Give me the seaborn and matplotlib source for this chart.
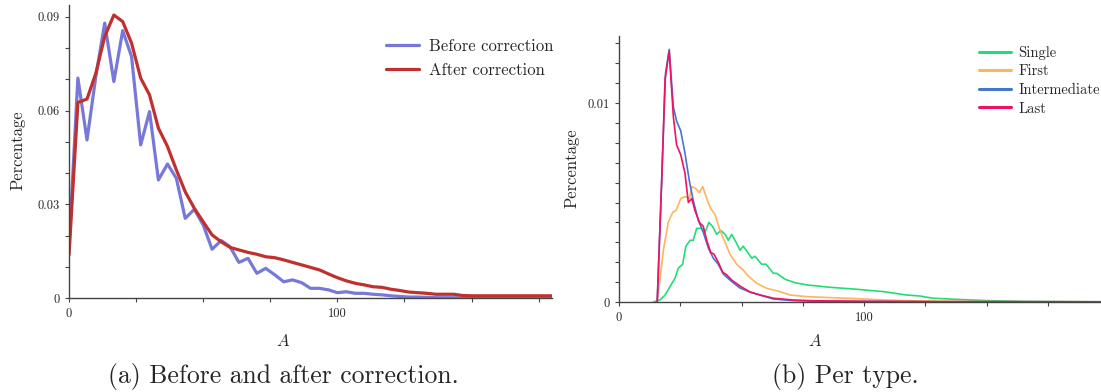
import numpy as np
import pandas as pd
import seaborn as sns
import matplotlib.pyplot as plt
from matplotlib.ticker import MultipleLocator

# ---- data ----
# (a) before / after correction
A_bins = [0, 3.3, 6.7, 10, 13.3, 16.7, 20, 23.3, 26.7, 30, 33.3, 36.7, 40, 43.3,
          46.7, 50, 53.3, 56.7, 60, 63.3, 66.7, 70, 73.3, 76.7, 80, 83.3, 86.7,
          90, 93.3, 96.7, 100, 103.3, 106.7, 110, 113.3, 116.7, 120, 123.3,
          126.7, 130, 133.3, 136.7, 140, 143.3, 146.7, 150, 153.3, 156.7, 160,
          163.3, 166.7, 170, 173.3, 176.7, 180]
before = [0.0164, 0.0704, 0.0506, 0.071, 0.088, 0.0693, 0.0856, 0.0773, 0.049,
          0.0597, 0.0378, 0.0429, 0.0383, 0.0255, 0.0284, 0.0234, 0.0156, 0.0184,
          0.0164, 0.0114, 0.0127, 0.0079, 0.0095, 0.0074, 0.0052, 0.0058, 0.0049,
          0.0031, 0.0031, 0.0026, 0.0017, 0.002, 0.0015, 0.0015, 0.0012, 0.001,
          0.0007, 0.0005, 0.0003, 0.0003, 0.0002, 0.0001, 0.0001, 0.0001,
          0, 0, 0, 0, 0, 0, 0, 0, 0, 0, 0]
after = [0.0138, 0.0626, 0.0637, 0.072, 0.0837, 0.0906, 0.0885, 0.0816, 0.0704,
         0.065, 0.0544, 0.0485, 0.041, 0.034, 0.0287, 0.0244, 0.0202, 0.018,
         0.0162, 0.0154, 0.0146, 0.014, 0.0132, 0.0129, 0.0122, 0.0114, 0.0106,
         0.0098, 0.009, 0.0077, 0.0065, 0.0055, 0.0047, 0.0042, 0.0036, 0.0034,
         0.0028, 0.0024, 0.0019, 0.0017, 0.0015, 0.0012, 0.0012, 0.0012, 0.0008,
         0.0007, 0.0007, 0.0007, 0.0007, 0.0007, 0.0007, 0.0007, 0.0007, 0.0007,
         0.0007]

# (b) per type
single_x = [14, 16.7, 18.8, 20.8, 22.9, 24.2, 26, 27.3, 29, 30.3, 31.7, 33.5, 35.1,
            36.7, 38.2, 39.9, 41.5, 43.3, 44.6, 46, 47.8, 49.4, 50.7, 52.5, 54.2,
            55.5, 58.2, 60, 63, 64.4, 67.8, 71.8, 76.6, 86, 97, 108, 117.4, 122.9,
            128, 136.5, 150, 165, 180, 197]
single_y = [0, 0.0001, 0.00035, 0.00077, 0.0012, 0.0017, 0.0019, 0.0028, 0.0031,
            0.0031, 0.0037, 0.0037, 0.0035, 0.004, 0.0038, 0.0034, 0.0036, 0.0034,
            0.0031, 0.0034, 0.003, 0.0026, 0.0028, 0.0025, 0.0022, 0.0023, 0.0019,
            0.0019, 0.00144, 0.00144, 0.00114, 0.00097, 0.00086, 0.00074, 0.00064,
            0.00052, 0.00035, 0.0003, 0.00019, 0.00014, 0.00007, 0.00003, 0.00002,
            0.00001]
first_x = [15.6, 16.8, 18.1, 20.1, 21.9, 23.3, 25.2, 26.9, 28.7, 29.7, 31.4, 32.8,
           34.2, 35.8, 37.4, 39.2, 41.2, 43.3, 45.3, 48, 50.7, 52.8, 56.2, 60.3,
           65.7, 69.8, 76.6, 86, 97, 108, 117, 130, 150, 197]
first_y = [0, 0.0012, 0.0026, 0.004, 0.0045, 0.0046, 0.0052, 0.0053, 0.0052, 0.0058,
           0.0057, 0.0055, 0.0058, 0.0052, 0.0047, 0.0044, 0.0036, 0.003, 0.0024,
           0.0019, 0.0016, 0.0013, 0.00094, 0.00069, 0.00052, 0.00035, 0.00027,
           0.00022, 0.00017, 0.0001, 0.00007, 0.00004, 0.00002, 0.00001]
inter_x = [15.6, 17.4, 19.0, 20.5, 22.2, 23.5, 25.2, 26.9, 28.7, 30.3, 32.4, 34.4,
           36.5, 38.5, 40.5, 42.6, 45.3, 49.4, 53.5, 57.6, 63, 71, 80, 100, 130, 197]
inter_y = [0, 0.006, 0.0115, 0.0127, 0.0098, 0.0091, 0.0086, 0.0075, 0.0061, 0.0051,
           0.0041, 0.0035, 0.0027, 0.0022, 0.0019, 0.0014, 0.0011, 0.0007, 0.0005,
           0.00035, 0.00015, 0.00007, 0.00004, 0.00002, 0.00001, 0.00001]
last_x = [15.6, 17.4, 18.8, 20.5, 22.2, 23.5, 25.2, 26.9, 28.3, 29.7, 31, 32.8, 34.4,
          35.8, 37.4, 38.8, 40.5, 42.3, 44, 46, 49.4, 53.5, 57.6, 63, 71, 80, 100,
          130, 197]
last_y = [0, 0.006, 0.0112, 0.0126, 0.0093, 0.0079, 0.0074, 0.0065, 0.005, 0.0052,
          0.0046, 0.004, 0.0038, 0.0031, 0.0025, 0.0024, 0.002, 0.0015, 0.00136,
          0.0011, 0.0008, 0.0005, 0.00035, 0.00019, 0.0001, 0.00006, 0.00004,
          0.00002, 0.00001]

# ---- long form tables for seaborn ----
df_a = pd.DataFrame({
    'A': A_bins * 2,
    'Percentage': before + after,
    'kind': ['Before correction'] * len(A_bins) + ['After correction'] * len(A_bins),
})
parts = []
for name, xs, ys in [('Single', single_x, single_y), ('First', first_x, first_y),
                     ('Intermediate', inter_x, inter_y), ('Last', last_x, last_y)]:
    parts.append(pd.DataFrame({'A': xs, 'Percentage': ys, 'type': name}))
df_b = pd.concat(parts, ignore_index=True)

# ---- style ----
sns.set_style('ticks')
plt.rcParams['font.family'] = ['cmr10', 'DejaVu Serif']
plt.rcParams['mathtext.fontset'] = 'cm'
plt.rcParams['axes.formatter.use_mathtext'] = True
plt.rcParams['axes.unicode_minus'] = False

spine_col = '#444444'
fig = plt.figure(figsize=(11.01, 3.92), dpi=100)
ax1 = fig.add_axes([0.0627, 0.2398, 0.4387, 0.7474])
ax2 = fig.add_axes([0.5622, 0.2296, 0.4378, 0.6786])

# (a)
sns.lineplot(data=df_a, x='A', y='Percentage', hue='kind', ax=ax1,
             palette={'Before correction': '#7878d8', 'After correction': '#c0302e'},
             linewidth=2.3)
ax1.set_xlim(0, 180)
ax1.set_ylim(0, 0.0938)
ax1.set_xticks([0, 100], ['0', '100'])
ax1.xaxis.set_minor_locator(MultipleLocator(25))
ax1.set_yticks([0, 0.03, 0.06, 0.09], ['0', '0.03', '0.06', '0.09'])
ax1.yaxis.set_minor_locator(MultipleLocator(0.01))
ax1.legend(frameon=False, loc='upper right', bbox_to_anchor=(1.021, 0.915),
           borderpad=0, fontsize=12, handlelength=2.0, labelspacing=0.55,
           handletextpad=0.6)

# (b)
sns.lineplot(data=df_b, x='A', y='Percentage', hue='type', ax=ax2,
             palette={'Single': '#22dd77', 'First': '#ffb45e',
                      'Intermediate': '#4477cc', 'Last': '#ee1166'},
             linewidth=1.2)
ax2.set_xlim(0, 196.7)
ax2.set_ylim(0, 0.01337)
ax2.set_xticks([0, 100], ['0', '100'])
ax2.xaxis.set_minor_locator(MultipleLocator(25))
ax2.set_yticks([0, 0.01], ['0', '0.01'])
ax2.yaxis.set_minor_locator(MultipleLocator(0.001))
leg2 = ax2.legend(frameon=False, loc='upper right', bbox_to_anchor=(1.013, 0.99),
                  borderpad=0, fontsize=10.5, handlelength=2.2, labelspacing=0.33,
                  handletextpad=0.5)
for line in leg2.get_lines():
    line.set_linewidth(2.2)

for ax, ax_x, ay_y in [(ax1, 0.443, -0.12), (ax2, 0.407, -0.117)]:
    sns.despine(ax=ax)
    for s in ('left', 'bottom'):
        ax.spines[s].set_color(spine_col)
        ax.spines[s].set_linewidth(1.0)
    ax.tick_params(which='both', length=3, width=0.8, color=spine_col,
                   labelsize=9, pad=4)
    ax.set_xlabel('$A$', fontsize=12)
    ax.set_ylabel('Percentage', fontsize=12)
    ax.xaxis.set_label_coords(ax_x, ay_y)

ax1.yaxis.set_label_coords(-0.091, 0.505)
ax2.yaxis.set_label_coords(-0.081, 0.504)

fig.text(0.257, 0.039, '(a) Before and after correction.', ha='center', va='center',
         fontsize=18.5)
fig.text(0.768, 0.039, '(b) Per type.', ha='center', va='center', fontsize=18.5)

fig.savefig('out.png', dpi=100)
